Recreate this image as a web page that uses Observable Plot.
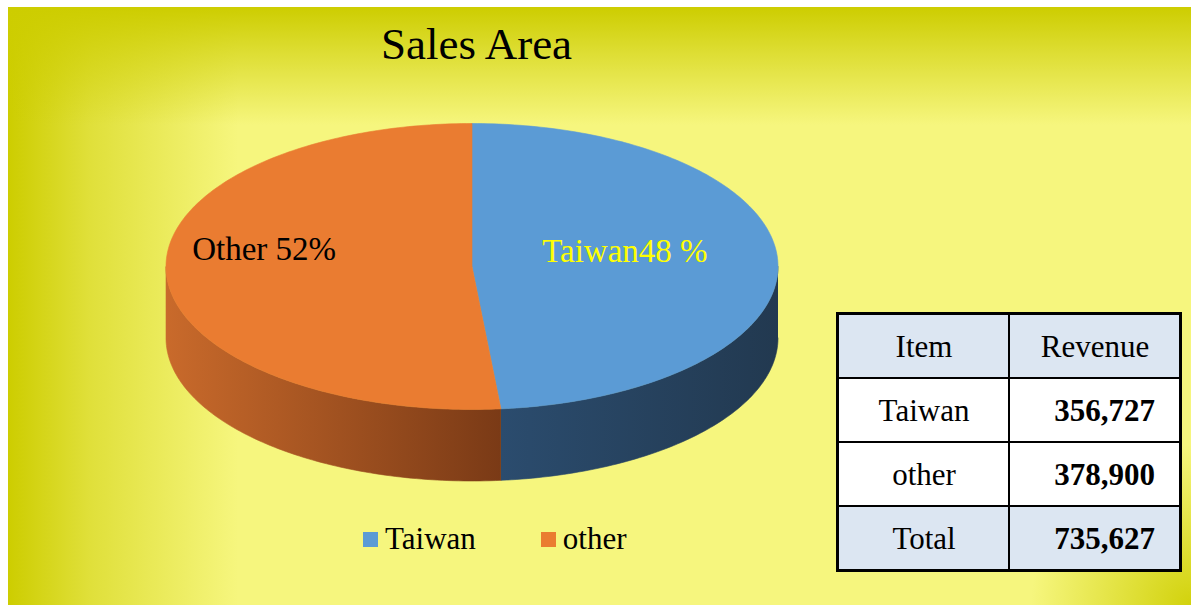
<!DOCTYPE html>
<html><head><meta charset="utf-8">
<script src="https://cdn.jsdelivr.net/npm/d3@7"></script>
<script src="https://cdn.jsdelivr.net/npm/@observablehq/plot@0.6"></script>
<style>
html,body{margin:0;padding:0;background:#fff;}
#wrap{position:relative;width:1191px;height:605px;overflow:hidden;background:#fff;}
#bg{position:absolute;left:8px;top:7px;right:0;bottom:0;
 background:
  radial-gradient(circle at 100% 100%, rgba(206,206,0,0.9) 0, rgba(206,206,0,0) 160px),
  linear-gradient(to bottom, #cdcd00 0, rgba(205,205,0,0.6) 45px, rgba(205,205,0,0) 118px),
  linear-gradient(to right, #cdcd00 0, rgba(205,205,0,0.55) 80px, rgba(205,205,0,0) 230px),
  #f6f67e;}
#title{position:absolute;left:0;width:953px;top:22px;text-align:center;font:45px/45px "Liberation Serif",serif;color:#000;}
#pie{position:absolute;left:0;top:0;}
#table{position:absolute;left:835px;top:311px;}
#legend{position:absolute;left:363px;top:521px;}
#legend > div{margin:0 !important;min-height:0 !important;}
#legend .lg-swatch{font:31px "Liberation Serif",serif !important;color:#000 !important;margin-right:65px !important;}
#legend .lg-swatch > svg{margin-right:7px !important;}
</style></head>
<body>
<div id="wrap"><div id="bg"></div><div id="title">Sales Area</div><div id="pie"></div><div id="legend"></div><div id="table"></div></div>
<script>
// ---- data ----
const items = ["Taiwan", "other"];
const revenue = [356727, 378900];
const sliceLabels = ["Taiwan48 %", "Other 52%"];
const tableHeader = ["Item", "Revenue"];
const totalLabel = "Total";

// ---- styles ----
const topColors = ["#5b9bd5", "#ea7c31"];
const sideLeft = ["#2b4c6e", "#c96a2b"];
const sideRight = ["#223950", "#7a3a16"];
const labelColors = ["#ffff00", "#000000"];
const labelRadius = [0.5, 0.68];
const labelLift = [0, 0.07];
const FONT = "Liberation Serif";
const DEPTH = 0.5;

// ---- pie geometry derived from data ----
const data = items.map((name, i) => ({name, value: revenue[i], i}));
const arcs = d3.pie().sort(null).value(d => d.value)(data);
function arcPts(a0, a1, dy = 0) {
  const n = Math.max(2, Math.ceil((a1 - a0) / (Math.PI / 180)));
  return d3.range(n + 1).map(k => {
    const a = a0 + (a1 - a0) * k / n;
    return {x: Math.sin(a), y: Math.cos(a) + dy};
  });
}
const tops = arcs.map(a => [{x: 0, y: 0}, ...arcPts(a.startAngle, a.endAngle), {x: 0, y: 0}]);
const sides = arcs.map(a => {
  const s = Math.max(a.startAngle, Math.PI / 2), e = Math.min(a.endAngle, 3 * Math.PI / 2);
  if (s >= e) return null;
  return [...arcPts(s, e), ...arcPts(s, e, -DEPTH).reverse()];
});
const labelData = arcs.map((a, i) => {
  const m = (a.startAngle + a.endAngle) / 2;
  return {x: labelRadius[i] * Math.sin(m), y: labelRadius[i] * Math.cos(m) + labelLift[i], text: sliceLabels[i], color: labelColors[i]};
});

const marks = [];
sides.forEach((pts, i) => { if (pts) marks.push(Plot.line(pts, {x: "x", y: "y", fill: `url(#side${i})`, stroke: `url(#side${i})`, strokeWidth: 0.6})); });
tops.forEach((pts, i) => marks.push(Plot.line(pts, {x: "x", y: "y", fill: topColors[i], stroke: topColors[i], strokeWidth: 0.6})));
marks.push(Plot.text(labelData, {x: "x", y: "y", text: "text", fill: "color", fontSize: 33, fontFamily: FONT, dy: -12}));

const pie = Plot.plot({
  width: 1191, height: 605, margin: 0,
  x: {domain: [-1, 1], range: [165.5, 777.5], axis: null},
  y: {domain: [1, -1], range: [123, 409], axis: null},
  color: {type: "identity"},
  style: {background: "transparent", overflow: "visible"},
  marks
});
const defs = d3.select(pie).insert("defs", ":first-child");
items.forEach((_, i) => {
  const g = defs.append("linearGradient").attr("id", `side${i}`).attr("x1", 0).attr("x2", 1).attr("y1", 0).attr("y2", 0);
  g.append("stop").attr("offset", "0%").attr("stop-color", sideLeft[i]);
  g.append("stop").attr("offset", "100%").attr("stop-color", sideRight[i]);
});
document.getElementById("pie").append(pie);

// ---- legend ----
const legend = Plot.legend({legend: "swatches", color: {domain: items, range: topColors}, swatchSize: 15, className: "lg"});
document.getElementById("legend").append(legend);

// ---- table ----
const fmt = d3.format(",");
const rows = [
  {key: tableHeader[0], a: tableHeader[0], b: tableHeader[1], shade: true, head: true},
  ...items.map((d, i) => ({key: d, a: d, b: fmt(revenue[i]), shade: false, head: false})),
  {key: totalLabel, a: totalLabel, b: fmt(d3.sum(revenue)), shade: true, head: false}
];
const cells = rows.flatMap(r => tableHeader.map((c, j) => ({row: r.key, col: c, text: j === 0 ? r.a : r.b, shade: r.shade, head: r.head, j})));
const table = Plot.plot({
  width: 347, height: 261, margin: 2,
  x: {domain: tableHeader, padding: 0, axis: null},
  y: {domain: rows.map(r => r.key), padding: 0, axis: null},
  color: {type: "identity"},
  style: {background: "transparent", overflow: "visible"},
  marks: [
    Plot.cell(cells, {x: "col", y: "row", fill: d => d.shade ? "#dce6f2" : "#ffffff", stroke: "#000", strokeWidth: 2, inset: 0}),
    Plot.frame({stroke: "#000", strokeWidth: 3}),
    Plot.text(cells.filter(d => d.j === 0 || d.head), {x: "col", y: "row", text: "text", fontSize: 31, fontFamily: FONT, fill: "#000", dy: 1}),
    Plot.text(cells.filter(d => d.j === 1 && !d.head), {x: "col", y: "row", text: "text", fontSize: 31, fontFamily: FONT, fontWeight: "bold", fill: "#000", textAnchor: "end", dx: 60, dy: 1})
  ]
});
document.getElementById("table").append(table);
</script>
</body></html>
